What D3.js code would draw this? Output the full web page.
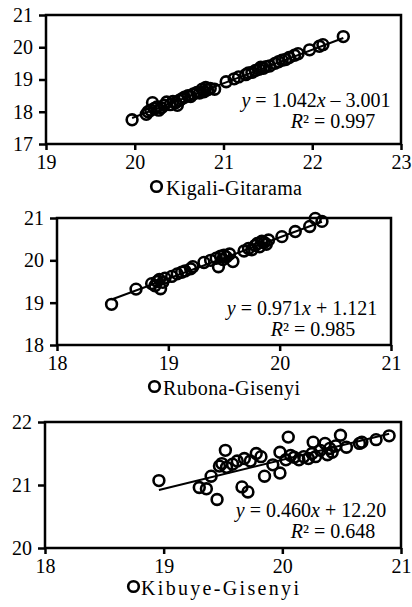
<!DOCTYPE html>
<html>
<head>
<meta charset="utf-8">
<script src="https://cdn.jsdelivr.net/npm/d3@7"></script>
<style>
	html, body { margin: 0; padding: 0; background: #fff; }
	svg { display: block; }
</style>
</head>
<body>
<div id="chart"></div>
<script>
// Kigali-Gitarama
const kigaliX = [19.97, 20.13, 20.15, 20.18, 20.20, 20.22, 20.25, 20.27, 20.30, 20.33, 20.36, 20.40, 20.43, 20.46, 20.48, 20.50, 20.53, 20.56, 20.60, 20.63, 20.66, 20.70, 20.73, 20.76, 20.78, 20.80, 20.82, 20.85, 20.90, 21.03, 21.12, 21.17, 21.25, 21.28, 21.32, 21.36, 21.40, 21.42, 21.45, 21.48, 21.52, 21.58, 21.62, 21.66, 21.70, 21.74, 21.80, 21.84, 21.97, 22.08, 22.12, 22.35];
const kigaliY = [17.75, 17.92, 18.00, 18.05, 18.28, 18.10, 18.15, 18.05, 18.12, 18.20, 18.30, 18.22, 18.32, 18.28, 18.20, 18.35, 18.40, 18.45, 18.50, 18.47, 18.55, 18.60, 18.58, 18.70, 18.62, 18.75, 18.68, 18.72, 18.70, 18.93, 19.02, 19.08, 19.15, 19.20, 19.22, 19.28, 19.32, 19.38, 19.35, 19.40, 19.42, 19.50, 19.55, 19.60, 19.62, 19.68, 19.75, 19.80, 19.92, 20.03, 20.08, 20.33];

// Rubona-Gisenyi
const rubonaX = [18.49, 18.71, 18.85, 18.88, 18.90, 18.92, 18.93, 18.95, 18.97, 19.03, 19.08, 19.12, 19.15, 19.20, 19.22, 19.32, 19.38, 19.43, 19.45, 19.47, 19.49, 19.50, 19.52, 19.55, 19.58, 19.68, 19.72, 19.75, 19.78, 19.80, 19.82, 19.84, 19.86, 19.88, 19.90, 20.02, 20.14, 20.27, 20.32, 20.38];
const rubonaY = [18.96, 19.32, 19.45, 19.40, 19.50, 19.55, 19.33, 19.48, 19.58, 19.62, 19.68, 19.72, 19.75, 19.80, 19.85, 19.95, 20.00, 20.05, 19.85, 20.10, 20.02, 20.12, 20.08, 20.15, 19.97, 20.22, 20.28, 20.25, 20.35, 20.40, 20.32, 20.45, 20.42, 20.38, 20.48, 20.56, 20.68, 20.80, 20.99, 20.92];

// Kibuye-Gisenyi
const kibuyeX = [18.96, 19.30, 19.36, 19.40, 19.45, 19.47, 19.49, 19.52, 19.53, 19.58, 19.62, 19.66, 19.68, 19.71, 19.73, 19.78, 19.82, 19.85, 19.92, 19.98, 19.98, 20.03, 20.05, 20.07, 20.10, 20.14, 20.18, 20.22, 20.25, 20.26, 20.28, 20.32, 20.36, 20.38, 20.40, 20.42, 20.45, 20.49, 20.54, 20.65, 20.67, 20.79, 20.90];
const kibuyeY = [21.07, 20.96, 20.94, 21.14, 20.77, 21.30, 21.34, 21.55, 21.28, 21.33, 21.38, 20.97, 21.42, 20.89, 21.38, 21.50, 21.45, 21.14, 21.32, 21.19, 21.52, 21.40, 21.76, 21.47, 21.44, 21.40, 21.45, 21.42, 21.50, 21.68, 21.45, 21.55, 21.66, 21.48, 21.58, 21.52, 21.62, 21.79, 21.60, 21.66, 21.68, 21.72, 21.78];

// fitted trendlines (slope, intercept) and labels
const slopes = [1.042, 0.971, 0.460];
const intercepts = [-3.001, 1.121, 12.20];
const eqTexts = ["1.042x – 3.001", "0.971x + 1.121", "0.460x + 12.20"];
const r2Texts = ["0.997", "0.985", "0.648"];
const names = ["Kigali-Gitarama", "Rubona-Gisenyi", "Kibuye-Gisenyi"];

const xDomains = [[19, 23], [18, 21], [18, 21]];
const yDomains = [[17, 21], [18, 21], [20, 22]];
const xTicks = [[19, 20, 21, 22, 23], [18, 19, 20, 21], [18, 19, 20, 21]];
const yTicks = [[17, 18, 19, 20, 21], [18, 19, 20, 21], [20, 21, 22]];

const WIDTH = 412;
const HEIGHT = 607;
const FONT = 20;
const SERIF = "Liberation Serif, DejaVu Serif";

// plot boxes in page pixels; legend = [circle x, circle y, text x, baseline, text width]
const PANELS = [
	{ left: 46, right: 401, top: 15, bottom: 144, eq: [316, 107], r2: [333, 128], legend: [156.5, 186.5, 166, 195, 136] },
	{ left: 57, right: 391, top: 218, bottom: 345, eq: [302, 315], r2: [313, 336], legend: [154.5, 386.5, 163, 395, 137] },
	{ left: 45, right: 401, top: 422, bottom: 548, eq: [311, 517], r2: [333, 538], legend: [133.5, 586.5, 141, 595, 158] },
];

const svg = d3
	.select("#chart")
	.append("svg")
	.attr("width", WIDTH)
	.attr("height", HEIGHT)
	.attr("font-family", SERIF)
	.attr("font-size", FONT);

const allX = [kigaliX, rubonaX, kibuyeX];
const allY = [kigaliY, rubonaY, kibuyeY];

PANELS.forEach((p, i) => {
	const points = allX[i].map((x, j) => ({ x: x, y: allY[i][j] }));

	const xScale = d3.scaleLinear().domain(xDomains[i]).range([p.left, p.right]);
	const yScale = d3.scaleLinear().domain(yDomains[i]).range([p.bottom, p.top]);

	const g = svg.append("g").attr("class", "panel");

	// axes (domain lines replaced by the frame)
	const xAxis = g
		.append("g")
		.attr("transform", `translate(0, ${p.bottom})`)
		.call(d3.axisBottom(xScale).tickValues(xTicks[i]).tickFormat(d3.format("d")).tickSize(6).tickPadding(5));
	const yAxis = g
		.append("g")
		.attr("transform", `translate(${p.left}, 0)`)
		.call(d3.axisLeft(yScale).tickValues(yTicks[i]).tickFormat(d3.format("d")).tickSize(7).tickPadding(6));

	[xAxis, yAxis].forEach((a) => {
		// d3 sets sans-serif 10 on the axis group; take the svg's font instead
		a.attr("font-family", SERIF).attr("font-size", FONT);
		a.select(".domain").remove();
		a.selectAll(".tick line").attr("stroke", "#000").attr("stroke-width", 2.5);
		a.selectAll(".tick text").attr("fill", "#000");
	});

	g.append("rect")
		.attr("x", p.left)
		.attr("y", p.top)
		.attr("width", p.right - p.left)
		.attr("height", p.bottom - p.top)
		.attr("fill", "none")
		.attr("stroke", "#000")
		.attr("stroke-width", 2.5);

	// trendline over the data range
	const xMin = d3.min(points, (d) => d.x);
	const xMax = d3.max(points, (d) => d.x);
	g.append("line")
		.attr("x1", xScale(xMin))
		.attr("y1", yScale(slopes[i] * xMin + intercepts[i]))
		.attr("x2", xScale(xMax))
		.attr("y2", yScale(slopes[i] * xMax + intercepts[i]))
		.attr("stroke", "#000")
		.attr("stroke-width", 2);

	g.append("g")
		.selectAll("circle")
		.data(points)
		.join("circle")
		.attr("cx", (d) => xScale(d.x))
		.attr("cy", (d) => yScale(d.y))
		.attr("r", 5.4)
		.attr("fill", "none")
		.attr("stroke", "#000")
		.attr("stroke-width", 2.6);

	// equation labels
	const eq = g
		.append("text")
		.attr("x", p.eq[0])
		.attr("y", p.eq[1])
		.attr("text-anchor", "middle");
	eq.append("tspan").attr("font-style", "italic").text("y");
	eq.append("tspan").text(" = " + eqTexts[i].split("x")[0]);
	eq.append("tspan").attr("font-style", "italic").text("x");
	eq.append("tspan").text(eqTexts[i].split("x")[1]);

	const r2 = g
		.append("text")
		.attr("x", p.r2[0])
		.attr("y", p.r2[1])
		.attr("text-anchor", "middle");
	r2.append("tspan").attr("font-style", "italic").text("R");
	r2.append("tspan").text("² = " + r2Texts[i]);

	// legend
	g.append("circle")
		.attr("cx", p.legend[0])
		.attr("cy", p.legend[1])
		.attr("r", 5.3)
		.attr("fill", "none")
		.attr("stroke", "#000")
		.attr("stroke-width", 2.6);
	g.append("text")
		.attr("x", p.legend[2])
		.attr("y", p.legend[3])
		.attr("textLength", p.legend[4])
		.attr("lengthAdjust", "spacing")
		.text(names[i]);
});
</script>
</body>
</html>
